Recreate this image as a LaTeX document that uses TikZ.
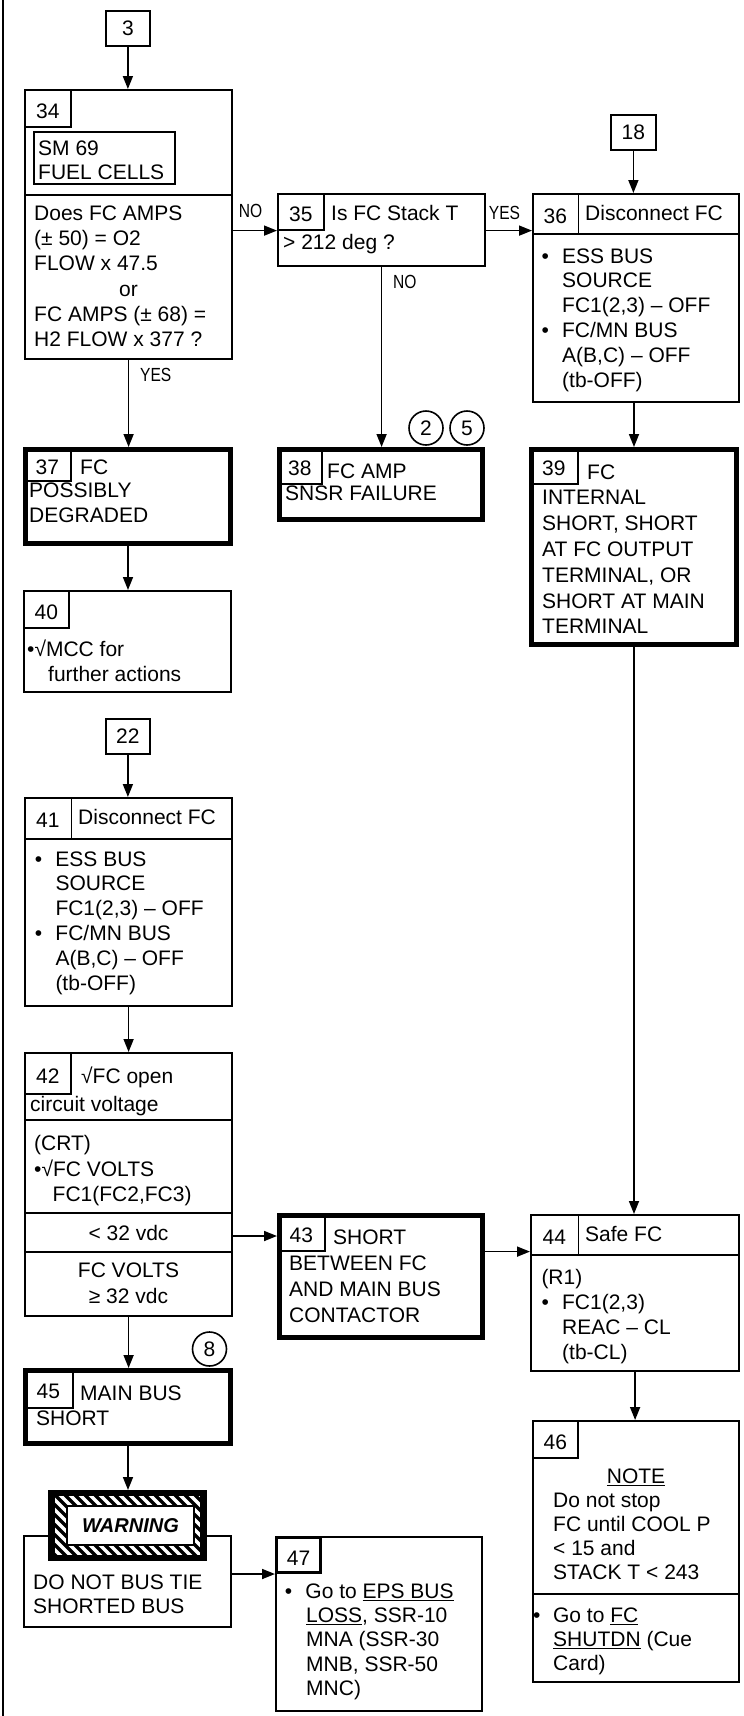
\documentclass[tikz,border=0pt]{standalone}
\usepackage{fontspec}
\setmainfont{Liberation Sans}
\newfontfamily\condfont[FakeStretch=0.82]{Liberation Sans}
\usetikzlibrary{arrows.meta}

\begin{document}
\begin{tikzpicture}[
  x=1pt, y=-1pt,
  >={Triangle[length=13pt,width=10pt]},
  block/.style={draw, line width=2.2pt, inner sep=0pt, anchor=north west},
  heavy/.style={block, line width=5pt},
  entry/.style={block, line width=1.8pt, font=\fontsize{21}{25}\selectfont},
  numcell/.style={block, line width=1.6pt, text height=20pt, text depth=0pt,
    font=\fontsize{21}{25}\selectfont},
  hdcell/.style={numcell, draw=none},
  txt/.style={anchor=north west, yshift=15.2pt, inner sep=0pt, align=left,
    font=\fontsize{21}{25.3}\selectfont},
  ctxt/.style={txt, anchor=north, align=center},
  answer/.style={inner sep=0pt, font=\condfont\fontsize{19}{20}\selectfont},
  flag/.style={circle, draw, line width=1.6pt, minimum size=34pt, inner sep=0pt,
    font=\fontsize{21}{25}\selectfont},
  link/.style={draw, ->, line width=1.7pt}
]
  \useasboundingbox (0,0) rectangle (744,1716);
  \draw[line width=2.5pt] (3,0) -- (3,1716);

  % left column, top
  \node[entry, minimum width=44pt, minimum height=35pt] (s3) at (105,10) {3};
  \node[block, minimum width=207pt, minimum height=269pt] (b34) at (24,89) {};
  \node[numcell, minimum width=46pt, minimum height=37pt] (n34) at (b34.north west) {34};
  \node[block, line width=1.6pt, minimum width=141pt, minimum height=52pt] (sm69) at (33,131) {};
  \node[txt, font=\fontsize{21}{24}\selectfont] (t34a) at (38,155.5) {SM 69\\FUEL CELLS};
  \draw[line width=2.2pt] (24,195) -- (233,195);
  \node[txt] (t34b) at (34,220.5) {Does FC AMPS\\(± 50) = O2\\FLOW x 47.5\\\hspace*{85pt}or\\FC AMPS (± 68) =\\H2 FLOW x 377 ?};
  \draw[link] (s3.south) -- (s3.south |- b34.north);

  \node[heavy, minimum width=205pt, minimum height=94pt] (b37) at (23,447) {};
  \node[numcell, minimum width=47pt, minimum height=33pt] (n37) at (b37.north west) {37};
  \node[txt] (t37) at (29,474.5) {\hspace*{51pt}FC\\[-2pt]POSSIBLY\\DEGRADED};
  \node[answer, anchor=west] (yes0) at (140,375) {YES};
  \draw[link] (b34.south) -- (b34.south |- b37.north);

  \node[block, minimum width=207pt, minimum height=101pt] (b40) at (23,590) {};
  \node[numcell, minimum width=45pt, minimum height=37pt] (n40) at (b40.north west) {40};
  \node[txt] (t40) at (27,654.5) {•√MCC for\\\hspace*{21pt}further actions};
  \draw[link] (b37.south) -- (b37.south |- b40.north);

  % second entry
  \node[entry, minimum width=44pt, minimum height=35pt] (s22) at (105,718) {22};
  \node[block, minimum width=207pt, minimum height=208pt] (b41) at (24,797) {};
  \node[hdcell, minimum width=46pt, minimum height=40pt] (n41) at (b41.north west) {41};
  \draw[line width=1.6pt] (n41.north east) -- (n41.south east);
  \draw[line width=2.2pt] (n41.south west) -- (n41.south -| b41.east);
  \node[txt] (t41a) at (78,824.5) {Disconnect FC};
  \node[txt, font=\fontsize{21}{24.8}\selectfont] (t41b) at (34.6,866.5) {•\hspace*{13.3pt}ESS BUS\\\hspace*{20.7pt}SOURCE\\\hspace*{20.7pt}FC1(2,3) – OFF\\•\hspace*{13.3pt}FC/MN BUS\\\hspace*{20.7pt}A(B,C) – OFF\\\hspace*{20.7pt}(tb-OFF)};
  \draw[link] (s22.south) -- (s22.south |- b41.north);

  \node[block, minimum width=207pt, minimum height=263pt] (b42) at (24,1052) {};
  \node[numcell, minimum width=46pt, minimum height=41pt] (n42) at (b42.north west) {42};
  \node[txt] (t42a) at (30,1081.5) {\hspace*{51pt}√FC open\\[3pt]circuit voltage};
  \draw[line width=2.2pt] (24,1120) -- (233,1120);
  \node[txt] (t42b) at (34,1150.5) {(CRT)\\•√FC VOLTS\\\hspace*{18.5pt}FC1(FC2,FC3)};
  \draw[line width=2.2pt] (24,1213) -- (233,1213);
  \node[ctxt] (t42c) at (128.5,1240.5) {< 32 vdc};
  \draw[line width=2.2pt] (24,1252) -- (233,1252);
  \node[ctxt] (t42d) at (128.5,1277.5) {FC VOLTS\\[1pt]≥ 32 vdc};
  \coordinate (r42) at (128.5,1236);
  \draw[link] (b41.south) -- (b41.south |- b42.north);

  \node[heavy, minimum width=205pt, minimum height=73pt] (b45) at (23,1368) {};
  \node[numcell, minimum width=49pt, minimum height=39pt] (n45) at (b45.north west) {45};
  \node[txt] (t45) at (36,1400.5) {\hspace*{44pt}MAIN BUS\\SHORT};
  \node[flag] (c8) at (209.5,1349) {8};
  \draw[link] (b42.south) -- (b42.south |- b45.north);

  % warning
  \node[block, minimum width=207pt, minimum height=91pt] (warnbox) at (23,1535) {};
  \node[txt, font=\fontsize{21}{24}\selectfont] (t48) at (33,1589.5) {DO NOT BUS TIE\\SHORTED BUS};
  \node[fill=black, inner sep=0pt, anchor=north west, minimum width=159pt, minimum height=71pt] (warnframe) at (48,1490) {};
  \fill[white] (55,1496) rectangle (200,1555);
  \begin{scope}
    \clip (55,1496) rectangle (200,1555);
    \foreach \s in {-70,-60,...,200}
      \draw[line width=3.5pt] (\s,1490) -- ++(71,71);
  \end{scope}
  \node[draw, fill=white, line width=2pt, inner sep=0pt, minimum width=127pt, minimum height=39pt,
    font=\fontsize{20}{24}\selectfont\bfseries\itshape] (warn) at (130.5,1525.5) {WARNING};
  \draw[link] (b45.south) -- (b45.south |- warnframe.north);

  \node[block, minimum width=206pt, minimum height=174pt] (b47) at (275,1536) {};
  \node[numcell, line width=3pt, minimum width=44pt, minimum height=35pt] (n47) at (b47.north west) {47};
  \node[txt, font=\fontsize{21}{24.3}\selectfont] (t47) at (284.6,1598.5) {•\hspace*{13.3pt}Go to \underline{EPS BUS}\\\hspace*{21.4pt}\underline{LOSS}, SSR-10\\\hspace*{21.4pt}MNA (SSR-30\\\hspace*{21.4pt}MNB, SSR-50\\\hspace*{21.4pt}MNC)};
  \draw[link] (warnbox.east |- n47.south) -- (n47.south west);

  % middle column
  \node[answer] (no1) at (250.5,211) {NO};
  \node[block, minimum width=207pt, minimum height=72pt] (b35) at (277,193) {};
  \node[numcell, minimum width=46pt, minimum height=36pt] (n35) at (b35.north west) {35};
  \node[txt] (t35) at (283,220.5) {\hspace*{48pt}Is FC Stack T\\[3pt]> 212 deg ?};
  \draw[link] (b34.east |- n35.south) -- (n35.south west);

  \node[heavy, minimum width=203pt, minimum height=70pt] (b38) at (277,447) {};
  \node[numcell, minimum width=44pt, minimum height=36pt] (n38) at (b38.north west) {38};
  \node[txt] (t38) at (285,479) {\hspace*{42pt}FC AMP\\[-3pt]SNSR FAILURE};
  \node[flag] (c2) at (426,428) {2};
  \node[flag] (c5) at (467,428) {5};
  \node[answer, anchor=west] (no2) at (393,282) {NO};
  \draw[link] (b35.south) -- (b35.south |- b38.north);

  \node[heavy, minimum width=203pt, minimum height=122pt] (b43) at (277,1213) {};
  \node[numcell, minimum width=47pt, minimum height=37pt] (n43) at (b43.north west) {43};
  \node[txt, font=\fontsize{21}{26}\selectfont] (t43) at (289,1244.5) {\hspace*{44pt}SHORT\\BETWEEN FC\\AND MAIN BUS\\CONTACTOR};
  \draw[link] (b42.east |- r42) -- (b43.west |- r42);

  % right column
  \node[answer] (yes1) at (504.5,213) {YES};
  \node[entry, minimum width=45pt, minimum height=35pt] (s18) at (610,114) {18};
  \node[block, minimum width=206pt, minimum height=208pt] (b36) at (532,193) {};
  \node[hdcell, minimum width=45pt, minimum height=39pt] (n36) at (b36.north west) {36};
  \draw[line width=1.6pt] (n36.north east) -- (n36.south east);
  \draw[line width=2.2pt] (n36.south west) -- (n36.south -| b36.east);
  \node[txt] (t36a) at (585,220) {Disconnect FC};
  \node[txt, font=\fontsize{21}{24.8}\selectfont] (t36b) at (541.3,263.5) {•\hspace*{13.3pt}ESS BUS\\\hspace*{20.7pt}SOURCE\\\hspace*{20.7pt}FC1(2,3) – OFF\\•\hspace*{13.3pt}FC/MN BUS\\\hspace*{20.7pt}A(B,C) – OFF\\\hspace*{20.7pt}(tb-OFF)};
  \draw[link] (n35.south -| b35.east) -- (n35.south -| b36.west);
  \draw[link] (s18.south) -- (s18.south |- b36.north);

  \node[heavy, minimum width=205pt, minimum height=195pt] (b39) at (529,447) {};
  \node[numcell, minimum width=48pt, minimum height=36pt] (n39) at (b39.north west) {39};
  \node[txt, font=\fontsize{21}{25.8}\selectfont] (t39) at (542,479.5) {\hspace*{45pt}FC\\INTERNAL\\SHORT, SHORT\\AT FC OUTPUT\\TERMINAL, OR\\SHORT AT MAIN\\TERMINAL};
  \draw[link] (b39.north |- b36.south) -- (b39.north);

  \node[block, minimum width=208pt, minimum height=156pt] (b44) at (530,1214) {};
  \node[hdcell, minimum width=47pt, minimum height=39pt] (n44) at (b44.north west) {44};
  \draw[line width=1.6pt] (n44.north east) -- (n44.south east);
  \draw[line width=2.2pt] (n44.south west) -- (n44.south -| b44.east);
  \node[txt] (t44a) at (585,1241.5) {Safe FC};
  \node[txt, font=\fontsize{21}{25}\selectfont] (t44b) at (541.3,1284.5) {(R1)\\•\hspace*{13.3pt}FC1(2,3)\\\hspace*{20.7pt}REAC – CL\\\hspace*{20.7pt}(tb-CL)};
  \draw[link] (b39.south) -- (b39.south |- b44.north);
  \draw[link] (n43.south -| b43.east) -- (n43.south -| b44.west);

  \node[block, minimum width=206pt, minimum height=261pt] (b46) at (532,1420) {};
  \node[numcell, minimum width=45pt, minimum height=37pt] (n46) at (b46.north west) {46};
  \node[ctxt] (t46a) at (636,1483.5) {\underline{NOTE}};
  \node[txt, font=\fontsize{21}{24}\selectfont] (t46b) at (553,1508.5) {Do not stop\\FC until COOL P\\< 15 and\\STACK T < 243};
  \draw[line width=2.2pt] (532,1594) -- (740,1594);
  \node[txt, font=\fontsize{21}{24}\selectfont] (t46c) at (533,1622.5) {•\hspace*{12.6pt}Go to \underline{FC}\\\hspace*{20pt}\underline{SHUTDN} (Cue\\\hspace*{20pt}Card)};
  \draw[link] (b44.south) -- (b44.south |- b46.north);
\end{tikzpicture}
\end{document}
